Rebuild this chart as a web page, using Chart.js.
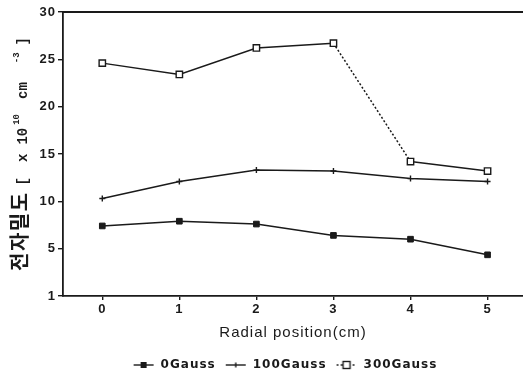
<!DOCTYPE html>
<html><head><meta charset="utf-8">
<script src="https://cdn.jsdelivr.net/npm/chart.js@4.4.1/dist/chart.umd.min.js"></script>
<style>html,body{margin:0;padding:0;background:#fff;}canvas{display:block;}</style>
</head><body>
<canvas id="c" width="523" height="378"></canvas>
<script>
// ---- data ----
const positions = [0, 1, 2, 3, 4, 5];
const gauss0   = [7.4, 7.9, 7.6, 6.4, 6.0, 4.35];
const gauss100 = [10.3, 12.1, 13.3, 13.2, 12.4, 12.1];
const gauss300 = [24.6, 23.4, 26.2, 26.7, 14.2, 13.2];
const seriesNames = ['0Gauss', '100Gauss', '300Gauss'];
const xTickValues = [0, 1, 2, 3, 4, 5];
const yTickValues = [0, 5, 10, 15, 20, 25, 30];
const yTickLabels = ['1', '5', '10', '15', '20', '25', '30'];
const xTitle = 'Radial position(cm)';
const yTitleKo = '전자밀도';

// ---- style ----
const ink = '#1a1a1a';
const LS = '1px';

function legendImg(kind) {
  const c = document.createElement('canvas');
  c.width = 22; c.height = 10;
  const g = c.getContext('2d');
  g.strokeStyle = ink; g.lineWidth = 1.4;
  if (kind === 2) g.setLineDash([2, 2]);
  g.beginPath(); g.moveTo(1, 5); g.lineTo(21, 5); g.stroke();
  g.setLineDash([]);
  if (kind === 0) { g.fillStyle = ink; g.fillRect(8, 2, 6, 6); }
  if (kind === 1) { g.beginPath(); g.moveTo(11, 2.5); g.lineTo(11, 7.5); g.stroke(); }
  if (kind === 2) { g.fillStyle = '#fff'; g.fillRect(7.5, 1.5, 7, 7); g.strokeRect(7.5, 1.5, 7, 7); }
  return c;
}
const legendImgs = [legendImg(0), legendImg(1), legendImg(2)];

const toPts = arr => positions.map((x, i) => ({ x: x, y: arr[i] }));

const frame = {
  id: 'frame',
  beforeLayout(chart) { chart.ctx.letterSpacing = LS; },
  afterLayout(chart) {
    const lg = chart.legend;
    if (lg) { lg.left -= 8; lg.right -= 8; }
  },
  beforeDraw(chart) { chart.ctx.letterSpacing = LS; },
  afterDraw(chart) {
    const { ctx, chartArea: a } = chart;
    ctx.save();
    ctx.strokeStyle = ink; ctx.lineWidth = 1.8;
    ctx.beginPath(); ctx.moveTo(a.left, a.top); ctx.lineTo(a.right, a.top); ctx.stroke();
    // y-axis title (rich text, rotated)
    const kor = 'bold 20px "Noto Sans CJK KR", "Noto Sans CJK SC", sans-serif';
    const mono = 'bold 14px "Liberation Mono", "DejaVu Sans Mono", monospace';
    const sup = 'bold 9px "Liberation Mono", "DejaVu Sans Mono", monospace';
    const pieces = [
      { t: yTitleKo, f: kor, gap: 0, dy: 0, ls: '1.5px' },
      { t: '[', f: mono, gap: 6, dy: 0 },
      { t: 'x', f: mono, gap: 15, dy: 0 },
      { t: '10', f: mono, gap: 9, dy: 0 },
      { t: '10', f: sup, gap: 3, dy: -8 },
      { t: 'cm', f: mono, gap: 15, dy: 0 },
      { t: '-3', f: sup, gap: 19, dy: -8 },
      { t: ']', f: mono, gap: 7, dy: 0 }
    ];
    let total = 0;
    pieces.forEach(p => { ctx.font = p.f; ctx.letterSpacing = p.ls || '0px'; p.w = ctx.measureText(p.t).width; total += p.gap + p.w; });
    const cy = (a.top + a.bottom) / 2;
    ctx.translate(27, cy + total / 2);
    ctx.rotate(-Math.PI / 2);
    ctx.fillStyle = ink; ctx.textBaseline = 'alphabetic'; ctx.textAlign = 'left';
    let t = 0;
    pieces.forEach(p => { t += p.gap; ctx.font = p.f; ctx.letterSpacing = p.ls || '0px'; ctx.fillText(p.t, t, p.dy); t += p.w; });
    ctx.restore();
  }
};

const tickFont = { family: '"Liberation Sans", Arial, sans-serif', size: 13, weight: 'bold' };

new Chart(document.getElementById('c').getContext('2d'), {
  type: 'line',
  data: {
    datasets: [
      { label: seriesNames[0], data: toPts(gauss0), borderColor: ink, backgroundColor: ink, borderWidth: 1.5,
        pointStyle: 'rect', pointRadius: 4, pointBackgroundColor: ink, pointBorderColor: ink, pointBorderWidth: 1 },
      { label: seriesNames[1], data: toPts(gauss100), borderColor: ink, backgroundColor: ink, borderWidth: 1.5,
        pointStyle: 'cross', pointRadius: 3, pointBorderColor: ink, pointBorderWidth: 1.4 },
      { label: seriesNames[2], data: toPts(gauss300), borderColor: ink, backgroundColor: '#fff', borderWidth: 1.5,
        pointStyle: 'rect', pointRadius: 4.5, pointBackgroundColor: '#fff', pointBorderColor: ink, pointBorderWidth: 1.4,
        segment: { borderDash: c => (c.p0DataIndex === 3 ? [2, 2] : undefined) } }
    ]
  },
  options: {
    responsive: false,
    animation: false,
    devicePixelRatio: 1,
    layout: { autoPadding: false, padding: { top: 12, right: 0, left: 0, bottom: -3 } },
    plugins: {
      tooltip: { enabled: false },
      legend: {
        position: 'bottom',
        fullSize: false,
        labels: {
          usePointStyle: true, pointStyleWidth: 22, boxHeight: 10, padding: 9,
          color: ink, font: { family: '"DejaVu Sans", sans-serif', size: 12, weight: 'bold' },
          generateLabels: chart => chart.data.datasets.map((d, i) => ({
            text: d.label, pointStyle: legendImgs[i], datasetIndex: i, fontColor: ink,
            lineWidth: 0, strokeStyle: 'rgba(0,0,0,0)', fillStyle: 'rgba(0,0,0,0)', hidden: false
          }))
        }
      }
    },
    scales: {
      x: {
        type: 'linear', min: -0.51, max: 5.46,
        afterBuildTicks: s => { s.ticks = xTickValues.map(v => ({ value: v })); },
        afterFit: s => { s.height = 54; },
        ticks: { font: tickFont, color: ink, padding: 2, callback: v => String(v) },
        grid: { display: true, drawOnChartArea: false, tickLength: 4, color: ink, lineWidth: 1.4 },
        border: { color: ink, width: 1.8 },
        title: { display: true, text: xTitle, color: ink, font: { family: '"Liberation Sans", Arial, sans-serif', size: 15 }, padding: { top: 4, bottom: 8 } }
      },
      y: {
        type: 'linear', min: 0, max: 30,
        afterBuildTicks: s => { s.ticks = yTickValues.map(v => ({ value: v })); },
        afterFit: s => { s.width = 63; },
        ticks: { font: tickFont, color: ink, padding: 2, callback: v => yTickLabels[yTickValues.indexOf(v)] },
        grid: { display: true, drawOnChartArea: false, tickLength: 5, color: ink, lineWidth: 1.4 },
        border: { color: ink, width: 1.8 }
      }
    }
  },
  plugins: [frame]
});
</script>
</body></html>
